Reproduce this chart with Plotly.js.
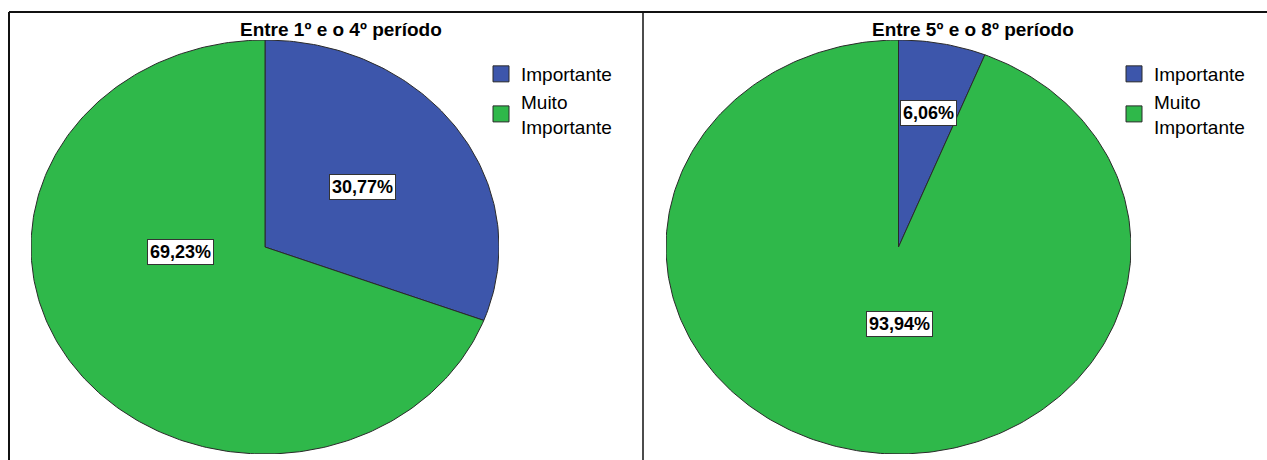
<!DOCTYPE html>
<html>
<head>
<meta charset="utf-8">
<script src="https://cdn.plot.ly/plotly-3.0.1.min.js"></script>
<style>
  html, body { margin: 0; padding: 0; background: #ffffff; }
  #chart { width: 1267px; height: 460px; }
</style>
</head>
<body>
<div id="chart"></div>
<script>
// ---- data ----
const categories = ['Importante', 'Muito<br>Importante'];
const panelTitles = ['Entre 1º e o 4º período', 'Entre 5º e o 8º período'];
const period1to4 = [30.77, 69.23];
const period5to8 = [6.06, 93.94];

// ---- style ----
const colors = ['#3d56ab', '#2fb84a'];
const outline = '#2a2a2a';
const fontFam = '"Liberation Sans", Arial, sans-serif';
// label positions (axis units, ellipse radius = 1)
const labelPos = [
  [[0.415, 0.29], [-0.36, -0.025]],
  [[0.128, 0.645], [0.004, -0.37]]
];

function fmt(v) { return v.toFixed(2).replace('.', ',') + '%'; }

function slicePath(startFrac, endFrac) {
  const xs = [0], ys = [0];
  const a0 = startFrac * 2 * Math.PI, a1 = endFrac * 2 * Math.PI;
  const n = Math.max(2, Math.ceil((a1 - a0) / (Math.PI / 180)));
  for (let k = 0; k <= n; k++) {
    const a = a0 + (a1 - a0) * k / n;
    xs.push(Math.sin(a));
    ys.push(Math.cos(a));
  }
  xs.push(0); ys.push(0);
  return { x: xs, y: ys };
}

const panels = [period1to4, period5to8];
const traces = [];
const annotations = [];
panels.forEach((vals, p) => {
  const total = vals.reduce((a, b) => a + b, 0);
  const xa = p === 0 ? 'x' : 'x2', ya = p === 0 ? 'y' : 'y2';
  const lg = p === 0 ? 'legend' : 'legend2';
  let acc = 0;
  vals.forEach((v, i) => {
    const s = acc / total, e = (acc + v) / total;
    acc += v;
    const path = slicePath(s, e);
    traces.push({
      type: 'scatter', mode: 'lines',
      x: path.x, y: path.y, xaxis: xa, yaxis: ya,
      fill: 'toself', fillcolor: colors[i],
      line: { color: outline, width: 1 },
      name: categories[i], legendgroup: 'g' + p + i, legend: lg,
      showlegend: false, hoverinfo: 'skip'
    });
    // legend entry (square key)
    traces.push({
      type: 'scatter', mode: 'markers',
      x: [null], y: [null], xaxis: xa, yaxis: ya,
      marker: { symbol: 'square', size: 16, color: colors[i], line: { color: outline, width: 1 } },
      name: categories[i], legendgroup: 'g' + p + i, legend: lg,
      showlegend: true, hoverinfo: 'skip'
    });
    annotations.push({
      xref: xa, yref: ya,
      x: labelPos[p][i][0], y: labelPos[p][i][1],
      text: '<b>' + fmt(v) + '</b>', showarrow: false,
      font: { family: fontFam, size: 18, color: '#000' },
      bgcolor: '#ffffff', bordercolor: '#333333', borderwidth: 1, borderpad: 2
    });
  });
});

const W = 1267, H = 460;
const titleX = [341, 973];
panelTitles.forEach((t, p) => {
  annotations.push({
    xref: 'paper', yref: 'paper', x: titleX[p] / W, y: (H - 30) / H,
    xanchor: 'center', yanchor: 'middle',
    text: '<b>' + t + '</b>', showarrow: false,
    font: { family: fontFam, size: 19, color: '#000' }
  });
});

const axisHidden = { visible: false, range: [-1, 1], fixedrange: true };
const legendBase = {
  font: { family: fontFam, size: 19, color: '#000' },
  xanchor: 'left', yanchor: 'top', bgcolor: 'rgba(0,0,0,0)',
  tracegroupgap: 0, itemwidth: 30
};

const layout = {
  width: W, height: H,
  margin: { l: 0, r: 0, t: 0, b: 0 },
  paper_bgcolor: '#ffffff', plot_bgcolor: 'rgba(0,0,0,0)',
  showlegend: true,
  xaxis: Object.assign({ domain: [31 / W, 499 / W] }, axisHidden),
  yaxis: Object.assign({ domain: [(H - 454) / H, (H - 40) / H] }, axisHidden),
  xaxis2: Object.assign({ domain: [666 / W, 1131 / W] }, axisHidden),
  yaxis2: Object.assign({ domain: [(H - 454) / H, (H - 40) / H] }, axisHidden),
  legend: Object.assign({ x: 481 / W, y: (H - 55) / H }, legendBase),
  legend2: Object.assign({ x: 1114 / W, y: (H - 55) / H }, legendBase),
  annotations: annotations,
  shapes: [
    { type: 'line', xref: 'paper', yref: 'paper', x0: 9 / W, x1: 1, y0: (H - 12) / H, y1: (H - 12) / H, line: { color: '#111', width: 2 } },
    { type: 'line', xref: 'paper', yref: 'paper', x0: 9 / W, x1: 9 / W, y0: 0, y1: (H - 12) / H, line: { color: '#111', width: 2 } },
    { type: 'line', xref: 'paper', yref: 'paper', x0: 643 / W, x1: 643 / W, y0: 0, y1: (H - 12) / H, line: { color: '#111', width: 1.5 } }
  ]
};

Plotly.newPlot('chart', traces, layout, { displayModeBar: false, staticPlot: true });
</script>
</body>
</html>
